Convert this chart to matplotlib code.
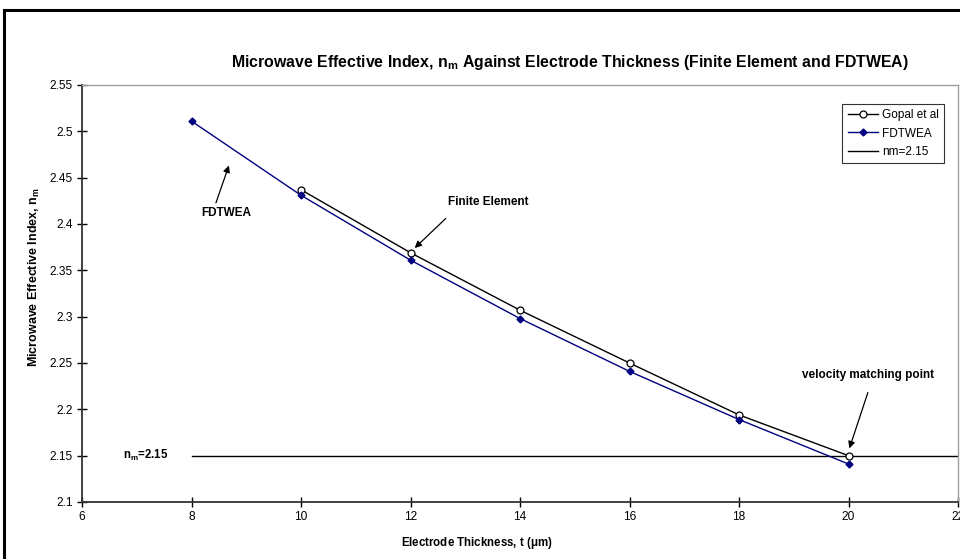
import numpy as np
import matplotlib
matplotlib.use("Agg")
import matplotlib.pyplot as plt
from matplotlib.patches import Rectangle

plt.rcParams["font.family"] = ["Liberation Sans", "DejaVu Sans"]
plt.rcParams["mathtext.fontset"] = "custom"
plt.rcParams["mathtext.rm"] = "Liberation Sans"
plt.rcParams["mathtext.bf"] = "Liberation Sans:bold"
plt.rcParams["mathtext.it"] = "Liberation Sans:italic"

# data
thick_gopal = [10, 12, 14, 16, 18, 20]
nm_gopal = [2.437, 2.369, 2.307, 2.250, 2.194, 2.150]

thick_fdtwea = [8, 10, 12, 14, 16, 18, 20]
nm_fdtwea = [2.511, 2.431, 2.361, 2.298, 2.241, 2.189, 2.141]

thick_ref = [8, 22]
nm_ref = [2.15, 2.15]

x_ticks = [6, 8, 10, 12, 14, 16, 18, 20, 22]
y_ticks = [2.1, 2.15, 2.2, 2.25, 2.3, 2.35, 2.4, 2.45, 2.5, 2.55]
y_labels = ["2.1", "2.15", "2.2", "2.25", "2.3", "2.35", "2.4", "2.45", "2.5", "2.55"]

W, H = 960, 559
fig = plt.figure(figsize=(9.6, 5.59), dpi=100)

# outer chart frame (cut off at right and bottom)
fig.patches.append(Rectangle((4 / W, -0.05), 1.1, 1 - 10 / H + 0.05,
                             transform=fig.transFigure, fill=False,
                             edgecolor="black", linewidth=2.2))

ax = fig.add_axes([82 / W, 1 - 502 / H, (958 - 82) / W, (502 - 85) / H])

ax.plot(thick_gopal, nm_gopal, color="black", lw=1.0, marker="o", ms=5,
        mfc="white", mec="black", mew=0.9, label="Gopal et al", zorder=3)
ax.plot(thick_fdtwea, nm_fdtwea, color="#000080", lw=1.0, marker="D", ms=3.5,
        mfc="#000080", mec="#000080", label="FDTWEA", zorder=3)
ax.plot(thick_ref, nm_ref, color="black", lw=1.0, label="nm=2.15", zorder=2)

ax.set_xlim(6, 22)
ax.set_ylim(2.1, 2.55)
ax.set_xticks(x_ticks)
ax.set_yticks(y_ticks)
ax.set_yticklabels(y_labels)
ax.tick_params(direction="inout", length=7, width=1, labelsize=8.6,
               colors="black", pad=3)

for s in ["left", "bottom"]:
    ax.spines[s].set_color("#333333")
    ax.spines[s].set_linewidth(1.3)
for s in ["top", "right"]:
    ax.spines[s].set_color("#a0a0a0")
    ax.spines[s].set_linewidth(1.0)

fig.text(570 / W, 1 - 62 / H,
         r"Microwave Effective Index, $\mathbf{n_m}$ Against Electrode Thickness (Finite Element and FDTWEA)",
         fontsize=11.4, fontweight="bold", ha="center", va="center")
ax.set_xlabel(r"Electrode Thickness, t ($\mathbf{\mu}$m)", fontsize=8.3,
              fontweight="bold")
ax.xaxis.set_label_coords((477 - 82) / 876, (502 - 535) / 417)
ax.set_ylabel(r"Microwave Effective Index, $\mathbf{n_m}$", fontsize=9,
              fontweight="bold")
ax.yaxis.set_label_coords((42 - 82) / 876, (502 - 277) / 417)

# annotations
arrow = dict(arrowstyle="-|>", color="black", lw=0.9, mutation_scale=10)
ax.text(8.63, 2.412, "FDTWEA", fontsize=8.5, fontweight="bold",
        ha="center", va="center")
ax.annotate("", xy=(8.70, 2.466), xytext=(8.43, 2.42), arrowprops=arrow)
ax.text(13.42, 2.424, "Finite Element", fontsize=8.5, fontweight="bold",
        ha="center", va="center")
ax.annotate("", xy=(12.04, 2.372), xytext=(12.68, 2.408), arrowprops=arrow)
ax.text(20.36, 2.237, "velocity matching point", fontsize=8.5,
        fontweight="bold", ha="center", va="center")
ax.annotate("", xy=(20.0, 2.155), xytext=(20.37, 2.221), arrowprops=arrow)
ax.text(6.75, 2.15, r"$\mathbf{n_m}$=2.15", fontsize=8.3, fontweight="bold",
        ha="left", va="center")

leg = ax.legend(loc="upper right", bbox_to_anchor=(0.984, 0.955), fontsize=8.5,
                frameon=True, fancybox=False, edgecolor="black",
                handlelength=2.6, handletextpad=0.3, borderpad=0.45,
                labelspacing=0.55, borderaxespad=0)
leg.get_frame().set_linewidth(0.8)

fig.savefig("out.png", dpi=100)
